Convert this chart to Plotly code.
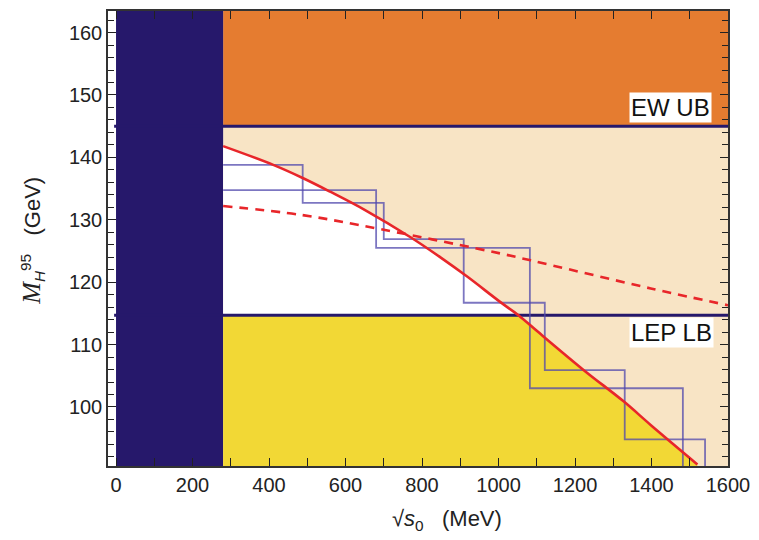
import numpy as np
import plotly.graph_objects as go

# Axis ranges (MeV, GeV)
x_range = [-21, 1600]
y_range = [90.54, 163.46]

# Excluded low-energy band and the two horizontal bounds
excluded_max = 280
ew_ub = 145.0
lep_lb = 114.7

# Solid red curve: M_H^95 versus sqrt(s0)
curve_x = [280, 411, 488, 560, 650, 770, 850, 918, 1005, 1052, 1100, 1223, 1327, 1400, 1520]
curve_y = [141.8, 138.8, 136.7, 134.5, 131.6, 127.2, 123.9, 120.9, 116.8, 114.7, 112.2, 105.9, 100.9, 97.0, 90.8]

# Dashed red curve
dash_x = [280, 482, 691, 1005, 1084, 1398, 1600]
dash_y = [132.2, 130.8, 128.5, 124.6, 123.5, 119.0, 116.3]

# Two step histograms (bin edges and levels)
step1_edges = [280, 488, 700, 909, 1121, 1330, 1540]
step1_vals = [138.8, 132.7, 126.9, 116.7, 105.9, 94.8]
step2_edges = [280, 680, 1082, 1482]
step2_vals = [134.75, 125.5, 103.0]

NAVY = "#26186b"
ORANGE = "#e57c30"
BEIGE = "#f8e4c5"
YELLOW = "#f2d835"
RED = "#e8262a"
STEP = "rgba(80,72,172,0.75)"
FONT = "Liberation Sans, Arial"

fig = go.Figure()

cx = np.array(curve_x, dtype=float)
cy = np.array(curve_y, dtype=float)
ybot = y_range[0]

# White region: under the curve, above the LEP bound
mask = cy >= lep_lb
wx = list(cx[mask]) + [cx[mask][-1], cx[0]]
wy = list(cy[mask]) + [lep_lb, lep_lb]
fig.add_trace(go.Scatter(x=wx, y=wy, mode="lines", fill="toself", fillcolor="white",
                         line=dict(width=0), hoverinfo="skip", showlegend=False))

# Yellow region: under the curve, below the LEP bound
yx = [cx[0]] + list(cx) + [cx[-1], cx[0]]
yy = [lep_lb] + list(np.minimum(cy, lep_lb)) + [ybot, ybot]
fig.add_trace(go.Scatter(x=yx, y=yy, mode="lines", fill="toself", fillcolor=YELLOW,
                         line=dict(width=0), hoverinfo="skip", showlegend=False))

# Horizontal bound lines
for yv in (ew_ub, lep_lb):
    fig.add_trace(go.Scatter(x=[-5, x_range[1]], y=[yv, yv], mode="lines",
                             line=dict(color=NAVY, width=3), hoverinfo="skip", showlegend=False))

# Step histograms
for edges, vals in ((step1_edges, step1_vals), (step2_edges, step2_vals)):
    fig.add_trace(go.Scatter(x=edges, y=list(vals) + [ybot], mode="lines", line_shape="hv",
                             line=dict(color=STEP, width=1.8), hoverinfo="skip", showlegend=False))

# Red curves
fig.add_trace(go.Scatter(x=dash_x, y=dash_y, mode="lines", line_shape="spline",
                         line=dict(color=RED, width=2.6, dash="9px,7px"),
                         hoverinfo="skip", showlegend=False))
fig.add_trace(go.Scatter(x=curve_x, y=curve_y, mode="lines", line_shape="spline",
                         line=dict(color=RED, width=2.6), hoverinfo="skip", showlegend=False))

# Background bands
fig.add_shape(type="rect", xref="x", yref="y", x0=excluded_max, x1=x_range[1], y0=ew_ub, y1=y_range[1],
              fillcolor=ORANGE, line_width=0, layer="below")
fig.add_shape(type="rect", xref="x", yref="y", x0=excluded_max, x1=x_range[1], y0=y_range[0], y1=ew_ub,
              fillcolor=BEIGE, line_width=0, layer="below")
fig.add_shape(type="rect", xref="x", yref="y", x0=0, x1=excluded_max, y0=y_range[0], y1=y_range[1],
              fillcolor=NAVY, line_width=0, layer="below")

# Bound labels
for txt, xv, yv in (("EW UB", 1449, 148.0), ("LEP LB", 1452, 112.0)):
    fig.add_annotation(x=xv, y=yv, xref="x", yref="y", text=txt, showarrow=False,
                       bgcolor="white", borderpad=1,
                       font=dict(family=FONT, size=24, color="#111"))

# Axis titles
fig.add_annotation(xref="paper", yref="paper", x=0.547, y=-0.118, yanchor="middle",
                   text="√<i>s</i><sub>0</sub>   (MeV)", showarrow=False,
                   font=dict(family=FONT, size=22, color="#222"))
fig.add_annotation(xref="paper", yref="paper", x=-0.121, y=0.495, xanchor="center",
                   yanchor="middle", textangle=-90,
                   text="<span style='font-family:Liberation Serif;font-size:26px'><i>M</i></span>"
                        "<sub><i>H</i></sub><sup>95</sup>   (GeV)",
                   showarrow=False,
                   font=dict(family=FONT, size=22, color="#222"))

axis_common = dict(showline=True, linecolor="#333", linewidth=1.5, mirror="ticks",
                   ticks="inside", tickcolor="#222", tickwidth=1.3, ticklen=8,
                   showgrid=False, zeroline=False,
                   tickfont=dict(family=FONT, size=20, color="#222"))

fig.update_xaxes(range=x_range, tick0=0, dtick=200,
                 minor=dict(dtick=100, ticks="inside", ticklen=8, tickcolor="#222", showgrid=False),
                 **axis_common)
fig.update_yaxes(range=y_range, tick0=0, dtick=10,
                 minor=dict(dtick=2, ticks="inside", ticklen=6, tickcolor="#222", showgrid=False),
                 **axis_common)

fig.update_layout(width=759, height=540, margin=dict(l=108, r=31, t=9, b=74),
                  paper_bgcolor="white", plot_bgcolor="white", showlegend=False)

fig.write_html("out.html")
